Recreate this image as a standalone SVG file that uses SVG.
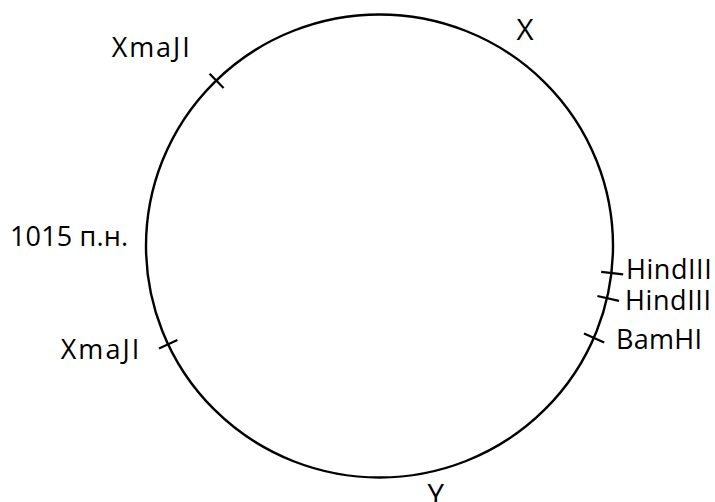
<svg xmlns="http://www.w3.org/2000/svg" width="715" height="502" viewBox="0 0 715 502">
<style>
.lbl{font-family:"Open Sans","Liberation Sans",Arial,sans-serif;font-size:27px;fill:#000}
.big{font-size:29.5px}
.tick{stroke:#000;stroke-width:2.2;fill:none;stroke-linecap:butt}
</style>
<rect width="715" height="502" fill="#fff"/>
<g id="plasmid">
<ellipse cx="379.5" cy="246" rx="233.5" ry="231.5" fill="none" stroke="#000" stroke-width="2.4"/>
</g>
<g id="sites">
<line class="tick" x1="209.6" y1="73.8" x2="223.6" y2="88"/>
<line class="tick" x1="159" y1="348.4" x2="177.4" y2="340"/>
<line class="tick" x1="601.2" y1="271.8" x2="623.2" y2="274.4"/>
<line class="tick" x1="597.4" y1="296" x2="619" y2="300.9"/>
<line class="tick" x1="584" y1="333.6" x2="604.2" y2="342.4"/>
</g>
<g id="labels">
<text class="lbl" x="111.7" y="57.3" textLength="78" lengthAdjust="spacing">XmaJI</text>
<text class="lbl big" x="516.5" y="39.5">X</text>
<text class="lbl" x="10" y="246" textLength="118" lengthAdjust="spacing">1015 п.н.</text>
<text class="lbl" x="626" y="279.3" textLength="85.7" lengthAdjust="spacing">HindIII</text>
<text class="lbl" x="625" y="310" textLength="86" lengthAdjust="spacing">HindIII</text>
<text class="lbl" x="616" y="348.5" textLength="86" lengthAdjust="spacing">BamHI</text>
<text class="lbl" x="60.7" y="359.3" textLength="78.6" lengthAdjust="spacing">XmaJI</text>
<text class="lbl big" x="427.5" y="504.5">Y</text>
</g>
</svg>
